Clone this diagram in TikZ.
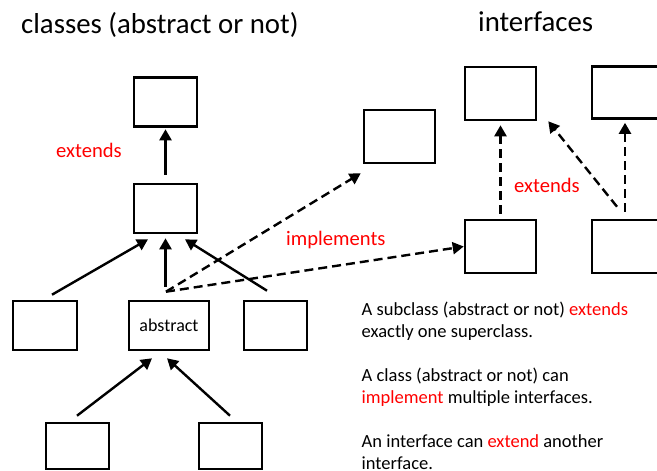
\documentclass[tikz,border=0pt]{standalone}
\usepackage{fontspec}
\setmainfont{Carlito}
\usetikzlibrary{arrows.meta,calc}

\begin{document}
\begin{tikzpicture}[x=1pt,y=-1pt,
  box/.style={draw,line width=2.6pt,inner sep=0pt,minimum width=63pt,minimum height=49pt},
  wbox/.style={box,minimum width=71pt,minimum height=53pt},
  ext/.style={line width=2.4pt,-{Triangle[length=11pt,width=12pt]}},
  impl/.style={ext,dash pattern=on 9pt off 5pt},
  title/.style={font=\fontsize{28.8}{34}\selectfont,inner sep=0pt,anchor=base west},
  lbl/.style={text=red,font=\fontsize{20.6}{24}\selectfont,inner sep=0pt,anchor=base west},
  para/.style={font=\fontsize{18.5}{22}\selectfont,inner sep=0pt,anchor=base west}
]
\useasboundingbox (0,0) rectangle (657,471);
\fill[white] (0,0) rectangle (657,471);
\clip (0,0) rectangle (657,471);

% headings
\node[title] (tcls) at (21,34) {classes (abstract or not)};
\node[title] (tint) at (478,31.5) {interfaces};

% class hierarchy
\node[box] (A) at (165.5,102) {};
\node[box] (B) at (165.5,208.5) {};
\node[box,minimum width=64pt] (L1) at (45,325.5) {};
\node[box,minimum width=80pt,font=\fontsize{18}{20}\selectfont] (abs) at (169,325.5) {abstract};
\node[box] (R1) at (275.5,325.5) {};
\node[box,minimum height=46pt] (BL) at (77.5,446) {};
\node[box,minimum height=46pt] (BR) at (230.5,446) {};

% interfaces
\node[wbox] (C) at (399.5,136.5) {};
\node[wbox] (I1) at (500.5,93.5) {};
\node[wbox,minimum height=52pt] (I2) at (627.5,92.5) {};
\node[wbox] (I3) at (500.5,246.5) {};
\node[wbox] (I4) at (627.5,246.5) {};

% extends (classes)
\draw[ext] ($(B.north)+(0,-8)$) -- ($(A.south)+(0,1.5)$);
\draw[ext] ($(L1.north)+(7,-5)$) -- ($(B.south)+(-17.5,5)$);
\draw[ext] ($(abs.north)+(-3.5,-13)$) -- ($(B.south)+(0,4)$);
\draw[ext] ($(R1.north)+(-8.5,-9)$) -- ($(B.south)+(19.5,5)$);
\draw[ext] ($(BL.north)+(-0.5,-6)$) -- ($(abs.south)+(-17,7)$);
\draw[ext] ($(BR.north)+(-0.5,-6)$) -- ($(abs.south)+(-2,7)$);

% implements
\coordinate (src) at ($(abs.north)+(-3,-8)$);
\draw[impl] (src) -- ($(C.south west)+(-2,9)$);
\draw[impl] (src) -- (I3.west);

% extends (interfaces)
\draw[impl] ($(I3.north)+(0,-5)$) -- ($(I1.south)+(0,4)$);
\draw[impl] ($(I4.north)+(-2.5,-7)$) -- ($(I2.south)+(-2.5,3)$);
\draw[impl] ($(I4.north)+(-10.5,-12)$) -- ($(I1.south east)+(11,0)$);

% labels
\node[lbl] (lext1) at (56,157) {extends};
\node[lbl] (limpl) at (286,245) {implements};
\node[lbl] (lext2) at (514,192) {extends};

% notes
\node[para] (n1) at (361.5,315) {\begin{tabular}[t]{@{}l@{}}A subclass (abstract or not) \textcolor{red}{extends}\\ exactly one superclass.\end{tabular}};
\node[para] (n2) at (361.5,381.5) {\begin{tabular}[t]{@{}l@{}}A class (abstract or not) can\\ \textcolor{red}{implement} multiple interfaces.\end{tabular}};
\node[para] (n3) at (361.5,447) {\begin{tabular}[t]{@{}l@{}}An interface can \textcolor{red}{extend} another\\ interface.\end{tabular}};
\end{tikzpicture}
\end{document}
